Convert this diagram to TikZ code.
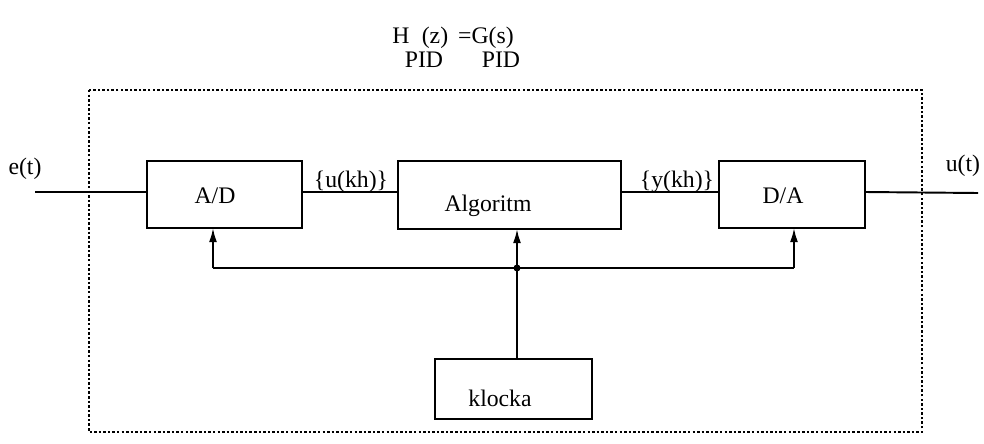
\documentclass[tikz,border=0pt]{standalone}
\usepackage{fontspec}
\setmainfont{Liberation Serif}
\usetikzlibrary{arrows.meta}
\begin{document}
\begin{tikzpicture}[x=0.02cm,y=-0.02cm,
  blk/.style={draw,line width=1.5pt},
  wire/.style={line width=1.1pt},
  arr/.style={wire,-{Latex[length=8pt,width=4.5pt]}},
  lbl/.style={font=\fontsize{13.5}{16}\selectfont,inner sep=0pt},
  ttl/.style={lbl,anchor=base}]
\useasboundingbox (0,0) rectangle (984,443);
% dotted frame
\draw[line width=1.4pt,dash pattern=on 1.4pt off 1.2pt] (89,90) rectangle (922,432);
% blocks
\draw[blk] (147,161) rectangle (302,228);
\coordinate (adW) at (147,192);
\coordinate (adE) at (302,192);
\coordinate (adS) at (213,228);
\draw[blk] (398,161) rectangle (621,229);
\coordinate (alW) at (398,192);
\coordinate (alE) at (621,192);
\coordinate (alS) at (517,229);
\draw[blk] (719,161) rectangle (865,228);
\coordinate (daW) at (719,192);
\coordinate (daE) at (865,192);
\coordinate (daS) at (794,228);
\draw[blk] (435,359) rectangle (592,419);
\coordinate (klN) at (517,359);
% texts in blocks
\node[lbl] (tad) at (215,196) {A/D};
\node[lbl] (tal) at (488,206) {Algoritm};
\node[lbl] (tda) at (783,196) {D/A};
\node[lbl] (tkl) at (500,398) {klocka};
% io
\coordinate (ein) at (35,192);
\coordinate (uout) at (978,193);
\node[lbl] (et) at (25,169) {e(t)};
\node[lbl] (ut) at (963,166) {u(t)};
\node[lbl] (uk) at (351,182) {\{u(kh)\}};
\node[lbl] (yk) at (677,182) {\{y(kh)\}};
\draw[wire] (ein) -- (adW);
\draw[wire] (adE) -- (alW);
\draw[wire] (alE) -- (daW);
\draw[wire] (daE) -- (uout);
% clock bus
\coordinate (j) at (517,268);
\coordinate (bl) at (213,268);
\coordinate (br) at (794,268);
\draw[wire] (bl) -- (br);
\draw[wire] (klN) -- (j);
\draw[arr] (bl) -- (adS);
\draw[arr] (j) -- (alS);
\draw[arr] (br) -- (daS);
\fill (j) circle (3.5);
% title
\node[ttl] (tH) at (401,43) {H};
\node[ttl] (tz) at (435,43) {(z)};
\node[ttl] (tG) at (486,43) {=G(s)};
\node[ttl] (tp1) at (424,67) {PID};
\node[ttl] (tp2) at (501,67) {PID};
\end{tikzpicture}
\end{document}
